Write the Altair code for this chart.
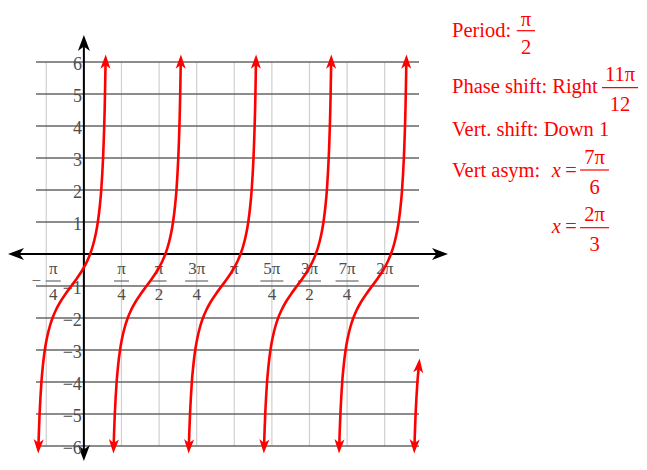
import math
import altair as alt
import pandas as pd

# ---------------- data ----------------
# horizontal grid (integers) and vertical grid (multiples of pi/4)
H_GRID = [-6, -5, -4, -3, -2, -1, 0, 1, 2, 3, 4, 5, 6]
V_GRID_QUARTERS = [-1, 0, 1, 2, 3, 4, 5, 6, 7, 8]

# y tick labels
Y_TICKS = [-6, -5, -4, -3, -2, -1, 1, 2, 3, 4, 5, 6]
Y_LABELS = ["−6", "−5", "−4", "−3", "−2", "−1", "1", "2", "3", "4", "5", "6"]

# x tick labels (positions in quarters of pi)
X_TICK_QUARTERS = [-1, 1, 2, 3, 4, 5, 6, 7, 8]
X_TICK_SIGN = ["−", "", "", "", "", "", "", "", ""]
X_TICK_NUM = ["π", "π", "π", "3π", "π", "5π", "3π", "7π", "2π"]
X_TICK_DEN = ["4", "4", "2", "4", "", "4", "2", "4", ""]

# one branch of the red curve: y values and horizontal position relative to
# the branch centre (where the curve crosses y = -1)
BRANCH_Y = [-6, -5.5, -5, -4.5, -4, -3.5, -3, -2.75, -2.5, -2.25, -2, -1.75,
            -1.5, -1.25, -1, -0.75, -0.5, -0.25, 0, 0.25, 0.5, 0.75, 1, 1.5,
            2, 2.5, 3, 3.5, 4, 4.5, 5, 5.5, 6]
BRANCH_DX = [-0.687, -0.676, -0.663, -0.646, -0.625, -0.595, -0.554, -0.526,
             -0.491, -0.448, -0.393, -0.322, -0.232, -0.122, 0.0, 0.122,
             0.232, 0.322, 0.393, 0.448, 0.491, 0.526, 0.554, 0.595, 0.625,
             0.646, 0.663, 0.676, 0.687, 0.696, 0.703, 0.709, 0.715]
BRANCH_CENTERS = [-0.262, 1.309, 2.880, 4.451, 6.021, 7.592]
BRANCH_POINTS = [33, 33, 33, 33, 33, 6]   # last branch is cut off at x = 7

# annotation texts
TXT_LEFT = ["Period:", "Phase shift: Right", "Vert. shift: Down 1", "Vert asym:"]
TXT_CENTER = ["π", "2", "11π", "12", "7π", "6", "2π", "3", "=", "="]
TXT_ITALIC = ["x", "x"]

# ---------------- layout (pixels inside the plot area) ----------------
W, H = 631, 454
K = 383 / 8.0                 # pixels per x unit
X_DOM = [-1 - 28 / K, -1 - 28 / K + W / K]
Y_DOM = [-6.5, 7.6875]
FONT = "Liberation Serif"
RED = "#ff0000"
LABEL_GREY = "#4d4d4d"
ANN_SIZE = 20.5

POS_LEFT = [(444, 29.3), (444, 85), (444, 128), (444, 169)]
POS_CENTER = [(518, 18), (518, 46.3), (612, 73), (612, 103),
              (586.5, 156.3), (586.5, 186.3), (586.5, 213), (586.5, 243),
              (563, 169), (563, 225)]
POS_ITALIC = [(543.7, 169), (543.7, 225)]
BARS = [(508.7, 527, 22.7), (594, 630, 79.7), (572, 601, 162), (572, 601, 219.7)]

xs = alt.Scale(domain=X_DOM, nice=False, zero=False)
ys = alt.Scale(domain=Y_DOM, nice=False, zero=False)


def X(f):
    return alt.X(f, scale=xs, axis=None)


def Y(f):
    return alt.Y(f, scale=ys, axis=None)


Q = math.pi / 4

# grid
vgrid_df = pd.DataFrame({"v": [q * Q for q in V_GRID_QUARTERS], "y1": -6, "y2": 6})
hgrid_df = pd.DataFrame({"h": H_GRID, "x1": -1, "x2": 7})
vgrid = alt.Chart(vgrid_df).mark_rule(color="#cfcfcf", strokeWidth=1.2).encode(
    x=X("v:Q"), y=Y("y1:Q"), y2="y2:Q")
hgrid = alt.Chart(hgrid_df).mark_rule(color="#666666", strokeWidth=1.5).encode(
    x=X("x1:Q"), x2="x2:Q", y=Y("h:Q"))

# axes
axes_df = pd.DataFrame({"x1": [-1.45, 0], "x2": [7.45, 0], "y1": [0, -6.2], "y2": [0, 6.6]})
axes = alt.Chart(axes_df).mark_rule(color="black", strokeWidth=2).encode(
    x=X("x1:Q"), x2="x2:Q", y=Y("y1:Q"), y2="y2:Q")
BLACK_ARROW = "M0,-1L0.75,1L0,0.45L-0.75,1Z"
aarr_df = pd.DataFrame({"x": [0, 0, -1.418, 7.4386], "y": [6.594, -6.219, 0, 0],
                        "angle": [0, 180, 270, 90]})
aarr = alt.Chart(aarr_df).mark_point(shape=BLACK_ARROW, filled=True, size=256,
                                     color="black", opacity=1).encode(
    x=X("x:Q"), y=Y("y:Q"), angle=alt.Angle("angle:Q", scale=None))

# y labels
ylab_df = pd.DataFrame({"y": Y_TICKS, "t": Y_LABELS, "x": 0})
ylab = alt.Chart(ylab_df).mark_text(font=FONT, fontSize=18, color=LABEL_GREY,
                                    align="right", baseline="alphabetic",
                                    dx=-2, dy=8).encode(
    x=X("x:Q"), y=Y("y:Q"), text="t:N")

# x labels
xl_df = pd.DataFrame({"v": [q * Q for q in X_TICK_QUARTERS], "sign": X_TICK_SIGN,
                      "num": X_TICK_NUM, "den": X_TICK_DEN, "y": 0})
xl_df["nlen"] = xl_df["num"].str.len()
pos = xl_df[xl_df["sign"] == ""]
neg = xl_df[xl_df["sign"] != ""]
den_pos = pos[pos["den"] != ""]


def tick_text(df, field, dy, dx=0):
    return alt.Chart(df).mark_text(font=FONT, fontSize=17, color=LABEL_GREY,
                                   align="center", baseline="alphabetic",
                                   dx=dx, dy=dy).encode(
        x=X("v:Q"), y=Y("y:Q"), text=f"{field}:N")


def tick_bar(df, half, shift=0):
    return alt.Chart(df).mark_rule(color=LABEL_GREY, strokeWidth=1, yOffset=27,
                                   xOffset=shift - half, x2Offset=shift + half).encode(
        x=X("v:Q"), x2="v:Q", y=Y("y:Q"))


xlabels = [
    tick_text(pos, "num", 20),
    tick_text(den_pos, "den", 46),
    tick_bar(den_pos[den_pos["nlen"] == 1], 7.5),
    tick_bar(den_pos[den_pos["nlen"] == 2], 11.5),
    tick_text(neg, "num", 20, dx=7),
    tick_text(neg, "den", 46, dx=7),
    tick_text(neg, "sign", 31.7, dx=-10),
    tick_bar(neg, 7.5, shift=7),
]

# red curves
rows = []
for b, (c, n) in enumerate(zip(BRANCH_CENTERS, BRANCH_POINTS)):
    for i in range(n):
        rows.append({"branch": b, "i": i, "x": c + BRANCH_DX[i], "y": BRANCH_Y[i]})
curve_df = pd.DataFrame(rows)
curves = alt.Chart(curve_df).mark_line(color=RED, strokeWidth=2.6,
                                       interpolate="monotone").encode(
    x=X("x:Q"), y=Y("y:Q"), detail="branch:N", order="i:Q")

ends = []
for b, g in curve_df.groupby("branch"):
    first = g.iloc[0]
    last = g.iloc[-1]
    ends.append({"x": first["x"], "y": first["y"], "angle": 182})
    ends.append({"x": last["x"], "y": last["y"], "angle": 1 if last["y"] >= 6 else 6})
ends_df = pd.DataFrame(ends)
RED_ARROW = "M0,-1L0.67,0.9L0,0.4L-0.67,0.9Z"
rarr = alt.Chart(ends_df).mark_point(shape=RED_ARROW, filled=True, size=225,
                                     color=RED, opacity=1).encode(
    x=X("x:Q"), y=Y("y:Q"), angle=alt.Angle("angle:Q", scale=None))

# annotations (pixel positions)
left_df = pd.DataFrame({"t": TXT_LEFT, "px": [p[0] for p in POS_LEFT],
                        "py": [p[1] for p in POS_LEFT]})
cen_df = pd.DataFrame({"t": TXT_CENTER, "px": [p[0] for p in POS_CENTER],
                       "py": [p[1] for p in POS_CENTER]})
ita_df = pd.DataFrame({"t": TXT_ITALIC, "px": [p[0] for p in POS_ITALIC],
                       "py": [p[1] for p in POS_ITALIC]})
bar_df = pd.DataFrame({"x1": [b[0] for b in BARS], "x2": [b[1] for b in BARS],
                       "py": [b[2] for b in BARS]})


def ann(df, align, style="normal"):
    return alt.Chart(df).mark_text(font=FONT, fontSize=ANN_SIZE, color=RED, align=align,
                                   baseline="alphabetic", fontStyle=style).encode(
        x=alt.X("px:Q", scale=None, axis=None),
        y=alt.Y("py:Q", scale=None, axis=None), text="t:N")


ann_bars = alt.Chart(bar_df).mark_rule(color=RED, strokeWidth=1.2).encode(
    x=alt.X("x1:Q", scale=None, axis=None), x2="x2:Q",
    y=alt.Y("py:Q", scale=None, axis=None))

chart = alt.layer(
    vgrid, hgrid, axes, aarr, ylab, *xlabels, curves, rarr,
    ann(left_df, "left"), ann(cen_df, "center"), ann(ita_df, "left", "italic"), ann_bars,
).properties(
    width=W, height=H, padding=0, autosize=alt.AutoSizeParams(type="none"),
    background="white",
).configure_view(stroke=None)

chart.save("out.html", embed_options={"renderer": "svg", "actions": False})
